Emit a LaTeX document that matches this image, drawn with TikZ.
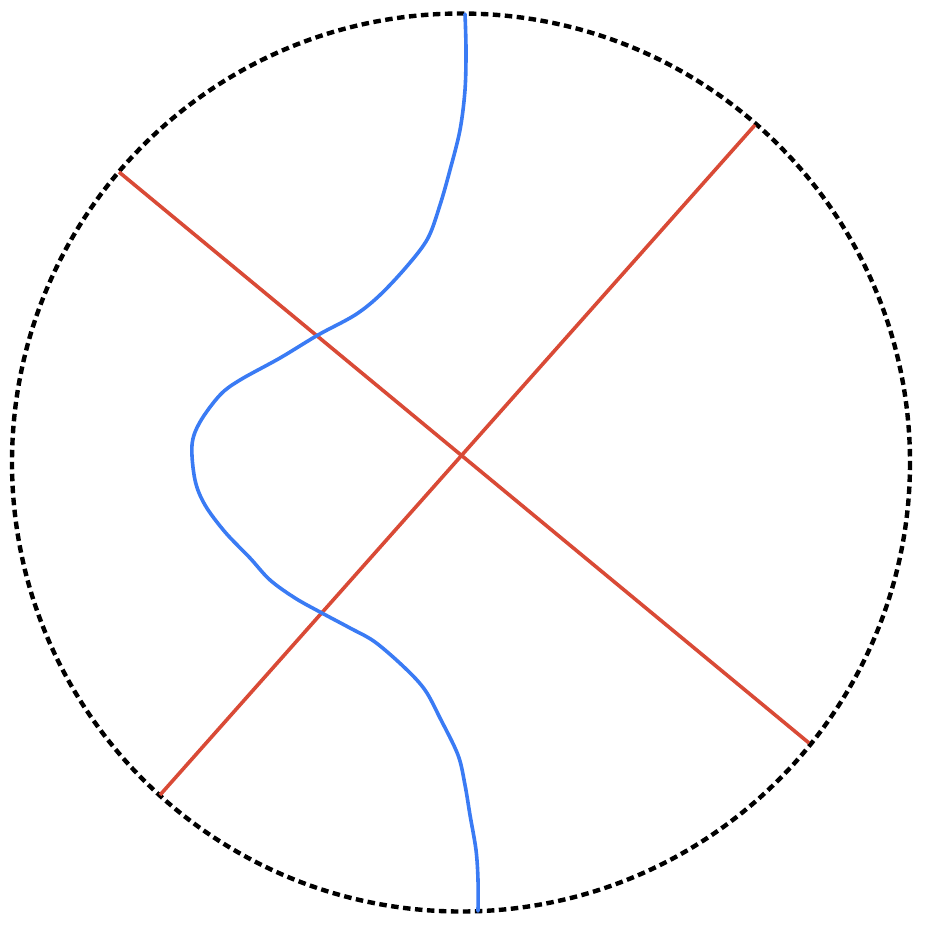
\documentclass[tikz,border=0pt]{standalone}
\usepackage{xcolor}
\definecolor{redline}{HTML}{D94A36}
\definecolor{blueline}{HTML}{3A7BF4}
\begin{document}
\begin{tikzpicture}[x=1pt,y=-1pt,
  rim/.style={draw=black,line width=4.4pt,dash pattern=on 7.5pt off 4.5pt},
  chord/.style={draw=redline,line width=3.6pt},
  curve/.style={draw=blueline,line width=3.6pt,line cap=round}]
\useasboundingbox (0,0) rectangle (931,927);
\coordinate (c) at (461,462.5);
\draw[rim] (c) circle[radius=449];
\coordinate (a1) at (119,172);
\coordinate (a2) at (809,743);
\coordinate (b1) at (160,795);
\coordinate (b2) at (755,125);
\draw[chord] (a1) -- (a2);
\draw[chord] (b1) -- (b2);
\draw[curve] plot[smooth,tension=0.55] coordinates {
(465,14) (466,50) (465,90) (460,130) (450,170) (440,205) (428,238) (408,265)
(380,295) (355,315) (318,335) (280,358) (240,380) (220,395) (200,422) (192,445)
(195,480) (205,505) (225,532) (250,558) (270,580) (295,598) (320,612) (350,628)
(375,642) (405,668) (425,690) (440,718) (458,755) (465,785) (470,815) (476,850)
(478,880) (478,911)};
\end{tikzpicture}
\end{document}
